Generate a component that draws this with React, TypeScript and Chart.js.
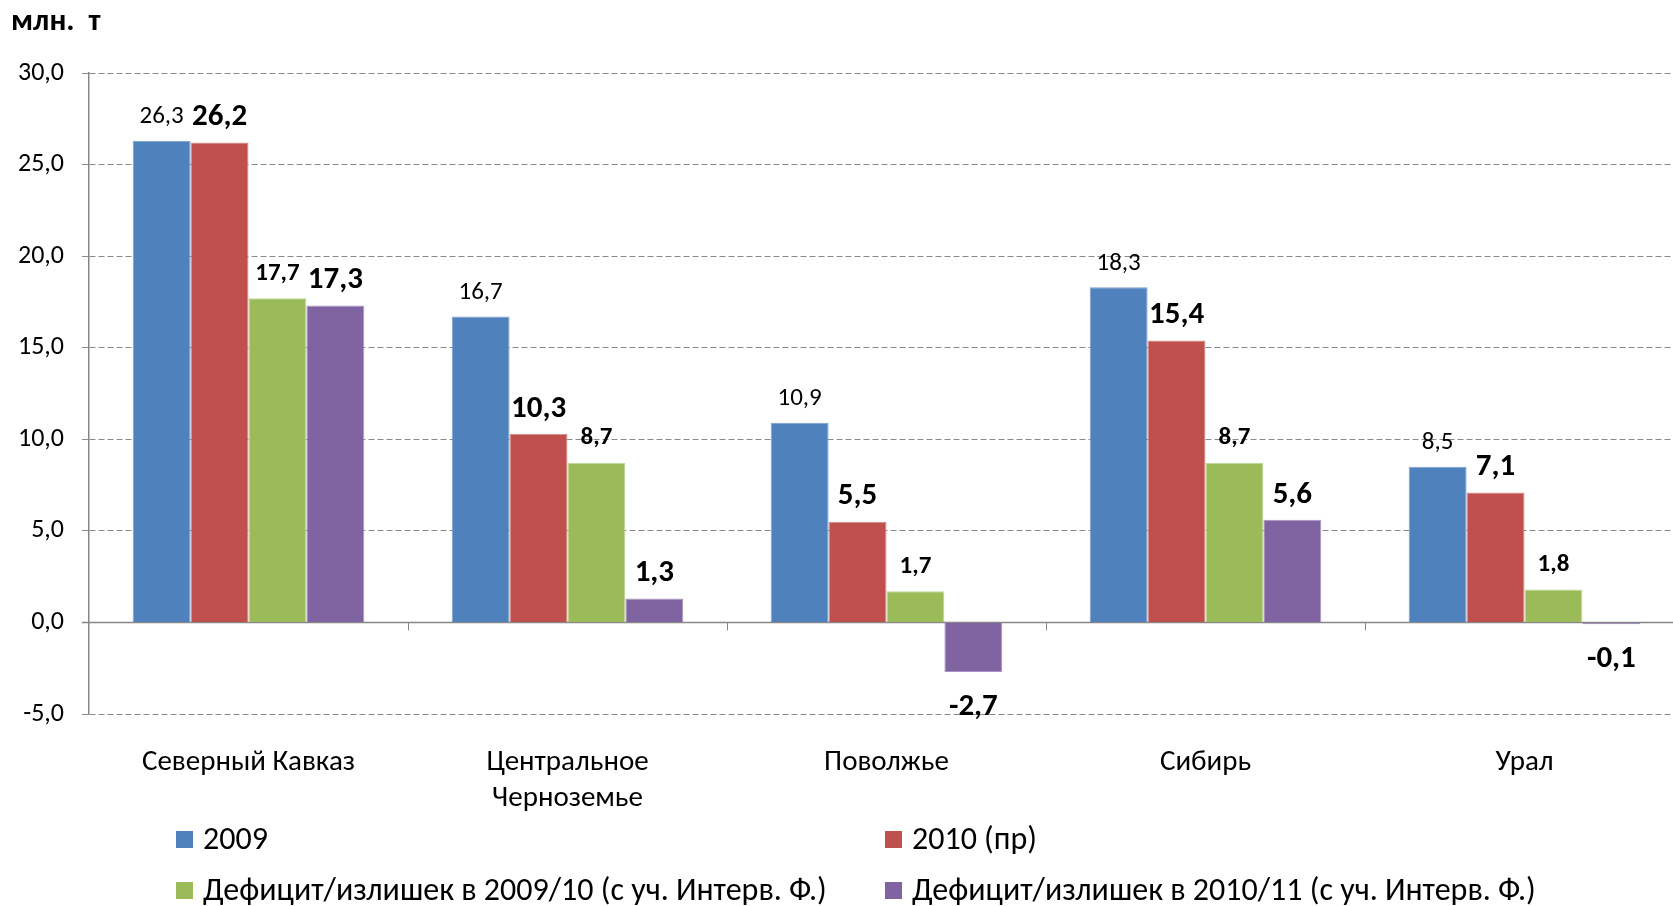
import React, { useEffect, useRef } from "react";
import { Chart, registerables } from "chart.js";

Chart.register(...registerables);

const FONT = "Carlito, Calibri, Lato, 'Noto Sans', sans-serif";

const categories: (string | string[])[] = [
  "Северный Кавказ",
  ["Центральное", "Черноземье"],
  "Поволжье",
  "Сибирь",
  "Урал",
];
const series2009 = [26.3, 16.7, 10.9, 18.3, 8.5];
const series2010 = [26.2, 10.3, 5.5, 15.4, 7.1];
const deficit0910 = [17.7, 8.7, 1.7, 8.7, 1.8];
const deficit1011 = [17.3, 1.3, -2.7, 5.6, -0.1];
const seriesNames = [
  "2009",
  "2010 (пр)",
  "Дефицит/излишек в 2009/10 (с уч. Интерв. Ф.)",
  "Дефицит/излишек в 2010/11 (с уч. Интерв. Ф.)",
];
const seriesColors = ["#4F81BD", "#C0504D", "#9BBB59", "#8064A2"];
const seriesBorders = ["#7BA0D0", "#D98A88", "#C0D896", "#A893C4"];
const yMin = -5;
const yMax = 30;
const yStep = 5;
const unitLabel = "млн.  т";

// label styling per series
const labelStyles = [
  { size: 25, bold: false, off: 24 },
  { size: 31, bold: true, off: 25 },
  { size: 25, bold: true, off: 25 },
  { size: 31, bold: true, off: 25 },
];

const fmt = (v: number) => v.toFixed(1).replace(".", ",");

const extrasPlugin = {
  id: "extras",
  beforeDatasetsDraw(chart: any) {
    const { ctx, chartArea, scales } = chart;
    const y0 = scales.y.getPixelForValue(0);
    ctx.save();
    ctx.strokeStyle = "#878787";
    ctx.lineWidth = 1.5;
    ctx.setLineDash([]);
    ctx.beginPath();
    ctx.moveTo(chartArea.left - 7, y0);
    ctx.lineTo(chartArea.right, y0);
    ctx.stroke();
    const xs = scales.x;
    const n = categories.length;
    ctx.lineWidth = 1;
    for (let i = 1; i < n; i++) {
      const bx = Math.round((xs.getPixelForTick(i - 1) + xs.getPixelForTick(i)) / 2) + 0.5;
      ctx.beginPath();
      ctx.moveTo(bx, y0);
      ctx.lineTo(bx, y0 + 8);
      ctx.stroke();
    }
    ctx.restore();
  },
  afterDatasetsDraw(chart: any) {
    const { ctx } = chart;
    ctx.save();
    ctx.fillStyle = "#000";
    ctx.textAlign = "center";
    ctx.textBaseline = "middle";
    chart.data.datasets.forEach((ds: any, di: number) => {
      const meta = chart.getDatasetMeta(di);
      const st = labelStyles[di];
      ctx.font = `${st.bold ? "bold " : ""}${st.size}px ${FONT}`;
      meta.data.forEach((bar: any, i: number) => {
        const v = ds.data[i] as number;
        const y = v >= 0 ? bar.y - st.off : bar.y + 35;
        ctx.fillText(fmt(v), bar.x, y);
      });
    });
    ctx.restore();
  },
};

export default function App() {
  const ref = useRef<HTMLCanvasElement | null>(null);

  useEffect(() => {
    if (!ref.current) return;
    const datasets = [series2009, series2010, deficit0910, deficit1011].map((d, i) => ({
      label: seriesNames[i],
      data: d,
      backgroundColor: seriesColors[i],
      borderColor: seriesBorders[i],
      borderWidth: 1,
      barPercentage: 1,
      categoryPercentage: 0.726,
    }));
    const chart = new Chart(ref.current, {
      type: "bar",
      data: { labels: categories as any, datasets },
      plugins: [extrasPlugin],
      options: {
        animation: false,
        responsive: false,
        devicePixelRatio: 1,
        layout: { padding: { left: 0, right: 16, top: 73, bottom: 0 } },
        plugins: {
          legend: { display: false },
          tooltip: { enabled: false },
          title: { display: false },
        },
        scales: {
          x: {
            grid: { display: false, drawTicks: false },
            border: { display: false },
            ticks: {
              color: "#000",
              font: { family: FONT, size: 29, lineHeight: 1.24 },
              padding: 31,
              maxRotation: 0,
              autoSkip: false,
            },
            afterFit: (s: any) => {
              s.height = 192;
            },
          },
          y: {
            min: yMin,
            max: yMax,
            grid: {
              color: "#8a8a8a",
              lineWidth: 1,
              tickLength: 7,
            },
            border: { display: true, color: "#878787", width: 1.5, dash: [6, 3] },
            ticks: {
              stepSize: yStep,
              color: "#000",
              font: { family: FONT, size: 26 },
              padding: 18,
              callback: (v: any) => fmt(Number(v)),
            },
            afterFit: (s: any) => {
              s.width = 89;
            },
          },
        },
      },
    });
    return () => chart.destroy();
  }, []);

  const legendItem = (i: number, left: number, top: number) => (
    <div
      key={i}
      style={{
        position: "absolute",
        left,
        top: top - 20,
        height: 40,
        display: "flex",
        alignItems: "center",
        whiteSpace: "nowrap",
      }}
    >
      <span
        style={{
          display: "inline-block",
          width: 17,
          height: 17,
          background: seriesColors[i],
          marginRight: 10,
        }}
      />
      <span style={{ fontSize: 32, lineHeight: "40px", color: "#000" }}>{seriesNames[i]}</span>
    </div>
  );

  return (
    <div
      style={{
        position: "fixed",
        left: 0,
        top: 0,
        width: 1673,
        height: 906,
        overflow: "hidden",
        background: "#fff",
        fontFamily: FONT,
      }}
    >
      <canvas ref={ref} width={1700} height={906} style={{ position: "absolute", left: 0, top: 0, width: 1700, height: 906 }} />
      <div
        style={{
          position: "absolute",
          left: 11,
          top: 0,
          fontSize: 31,
          lineHeight: "38px",
          fontWeight: "bold",
          color: "#000",
          whiteSpace: "pre",
        }}
      >
        {unitLabel}
      </div>
      {legendItem(0, 176, 839)}
      {legendItem(1, 885, 839)}
      {legendItem(2, 176, 890)}
      {legendItem(3, 885, 890)}
    </div>
  );
}
